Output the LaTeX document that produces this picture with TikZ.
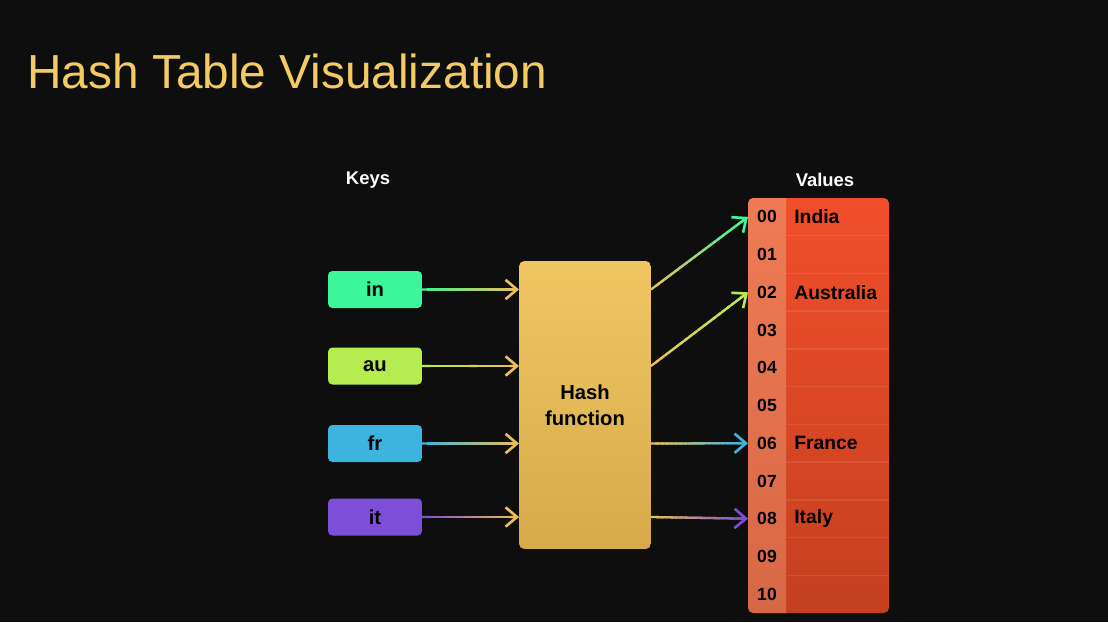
\documentclass[tikz,border=0pt]{standalone}
\usepackage{fontspec}
\setmainfont{Liberation Sans}
\usetikzlibrary{arrows.meta,calc}
\definecolor{bgblack}{HTML}{0E0E0E}
\definecolor{titleyellow}{HTML}{F3CB62}
\definecolor{keyin}{HTML}{3DF59A}
\definecolor{keyau}{HTML}{B6EC50}
\definecolor{keyfr}{HTML}{3CB4DF}
\definecolor{keyit}{HTML}{7D4ED8}
\definecolor{hashtop}{HTML}{F0C663}
\definecolor{hashbot}{HTML}{D6AA4A}
\definecolor{arrowyellow}{HTML}{EBBF58}
\definecolor{idxtop}{HTML}{EE7B55}
\definecolor{idxbot}{HTML}{D76846}
\definecolor{valtop}{HTML}{F14E2B}
\definecolor{valbot}{HTML}{C4401F}

% connector whose colour runs from #3 to #4
\newcommand{\gradarrow}[4]{%
  \draw[conn, #4, -{Straight Barb[length=6.5pt,width=11pt,line width=1.5pt]}]
    ($(#1)!0.9!(#2)$) -- (#2);
  \coordinate (ge) at ($(#2)!2pt!(#1)$);
  \foreach \s in {0,...,19} {
    \pgfmathtruncatemacro{\pc}{\s*5+2}
    \pgfmathsetmacro{\te}{min(1,(\s+1.8)/20)}
    \draw[conn, color=#4!\pc!#3] ($(#1)!\s/20!(ge)$) -- ($(#1)!\te!(ge)$);
  }
}

\tikzset{
  conn/.style={line width=1.3pt},
  keybox/.style={rounded corners=2.5pt, minimum width=1.88cm, minimum height=0.74cm,
    inner sep=0pt, outer sep=0pt, text=black, font=\bfseries\fontsize{11.5}{13}\selectfont},
  hashbox/.style={rounded corners=3pt, top color=hashtop, bottom color=hashbot,
    minimum width=2.64cm, minimum height=5.76cm, inner sep=0pt, outer sep=0pt,
    align=center, text=black, font=\bfseries\fontsize{11.5}{15}\selectfont},
  headlabel/.style={text=white, font=\bfseries\fontsize{10.5}{12}\selectfont},
  idxcell/.style={minimum width=0.76cm, minimum height=0.75cm, inner sep=0pt,
    outer sep=0pt, text=black, font=\bfseries\fontsize{10}{12}\selectfont},
  valtext/.style={anchor=west, inner sep=0pt, text=black,
    font=\bfseries\fontsize{11}{13}\selectfont},
}

\begin{document}
\begin{tikzpicture}[x=0.02cm, y=-0.02cm]
  \fill[bgblack] (0,0) rectangle (1108,622);
  \useasboundingbox (0,0) rectangle (1108,622);

  \node[anchor=base west, inner sep=0pt, text=titleyellow,
    font=\fontsize{27.2}{32}\selectfont] (title) at (27,88) {Hash Table Visualization};

  \node[headlabel] (keys) at (368,180) {Keys};
  \node[headlabel] (values) at (825,180) {Values};

  % keys
  \node[keybox, fill=keyin] (kin) at (375,289.5) {in};
  \node[keybox, fill=keyau] (kau) at (375,366) {au};
  \node[keybox, fill=keyfr] (kfr) at (375,443.5) {fr};
  \node[keybox, fill=keyit] (kit) at (375,517) {it};

  \node[hashbox] (hash) at (585,405) {Hash\\function};

  % table of values
  \def\rh{37.727}
  \begin{scope}
    \clip[rounded corners=3pt] (748,198) rectangle (889,613);
    \shade[top color=valtop, bottom color=valbot] (748,198) rectangle (889,613);
    \shade[top color=idxtop, bottom color=idxbot] (748,198) rectangle (786,613);
    \foreach \k in {1,...,10}
      \draw[white, opacity=0.09, line width=0.8pt] (786,{198+\k*\rh}) -- (889,{198+\k*\rh});
  \end{scope}
  \foreach \k/\lab in {0/00,1/01,2/02,3/03,4/04,5/05,6/06,7/07,8/08,9/09,10/10}
    \node[idxcell] (r\k) at (767,{198+(\k+0.5)*\rh}) {\lab};
  \foreach \k/\v in {0/India,2/Australia,6/France,8/Italy}
    \node[valtext] (v\k) at ([xshift=0.16cm]r\k.east) {\v};

  % keys into the hash function
  \foreach \n in {in,au,fr,it}
    \coordinate (h\n) at (hash.west |- k\n.east);
  \gradarrow{kin.east}{hin}{keyin}{arrowyellow}
  \gradarrow{kau.east}{hau}{keyau}{arrowyellow}
  \gradarrow{kfr.east}{hfr}{keyfr}{arrowyellow}
  \gradarrow{kit.east}{hit}{keyit}{arrowyellow}

  % hash function into the table
  \foreach \n in {in,au,fr,it}
    \coordinate (o\n) at (hash.east |- k\n.east);
  \gradarrow{oin}{r0.west}{arrowyellow}{keyin}
  \gradarrow{oau}{r2.west}{arrowyellow}{keyau}
  \gradarrow{ofr}{r6.west}{arrowyellow}{keyfr}
  \gradarrow{oit}{r8.west}{arrowyellow}{keyit}
\end{tikzpicture}
\end{document}
